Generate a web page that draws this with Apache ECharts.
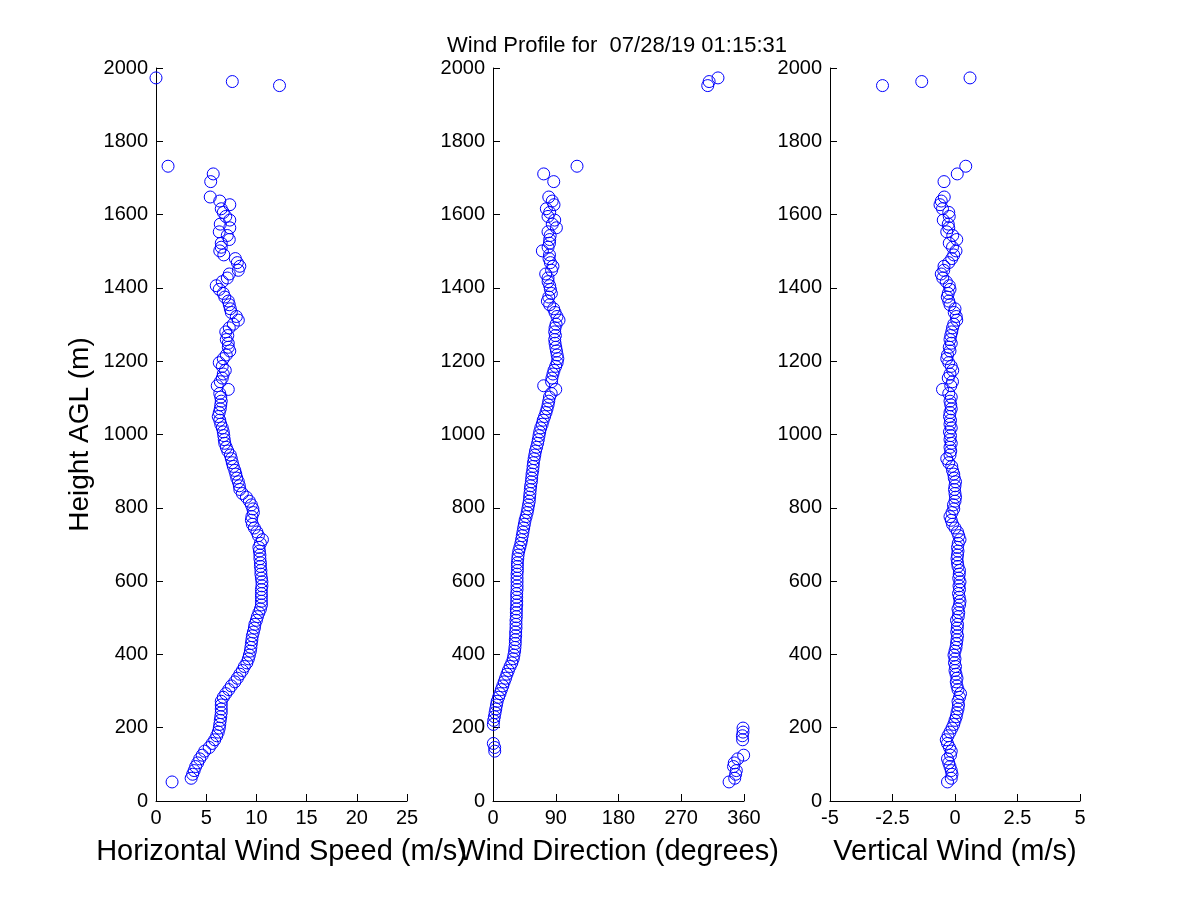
<!DOCTYPE html>
<html>
<head>
<meta charset="utf-8">
<script src="https://cdn.jsdelivr.net/npm/echarts@6/dist/echarts.min.js"></script>
<style>
html,body{margin:0;padding:0;background:#fff;}
#chart{width:1200px;height:900px;}
</style>
</head>
<body>
<div id="chart"></div>
<script>
// Heights (m AGL) of each range gate
var heights = [
  52, 62, 73, 83, 94, 104, 115, 125, 136, 146,
  157, 167, 178, 188, 199, 209, 220, 230, 241, 251,
  262, 272, 283, 293, 304, 314, 325, 335, 346, 356,
  367, 377, 388, 398, 409, 419, 430, 440, 451, 461,
  472, 482, 493, 503, 514, 524, 535, 545, 556, 566,
  577, 587, 598, 608, 619, 629, 640, 650, 661, 671,
  682, 692, 703, 713, 724, 734, 745, 755, 766, 776,
  787, 797, 808, 818, 829, 839, 850, 860, 871, 881,
  892, 902, 913, 923, 934, 944, 955, 965, 976, 986,
  997, 1007, 1018, 1028, 1039, 1049, 1060, 1070, 1081, 1091,
  1102, 1112, 1123, 1133, 1144, 1154, 1165, 1175, 1186, 1196,
  1207, 1217, 1228, 1238, 1249, 1259, 1270, 1280, 1291, 1301,
  1312, 1322, 1333, 1343, 1354, 1364, 1375, 1385, 1396, 1406,
  1417, 1427, 1438, 1448, 1459, 1469, 1480, 1490, 1501, 1511,
  1522, 1532, 1543, 1553, 1564, 1574, 1585, 1595, 1606, 1616,
  1627, 1637, 1648, 1690, 1711, 1732, 1952, 1963, 1973
];

// Horizontal wind speed (m/s)
var windSpeed = [
  1.6, 3.5, 3.65, 3.8, 3.95, 4.15, 4.35, 4.6, 4.85, 5.3,
  5.6, 5.85, 6.05, 6.2, 6.3, 6.35, 6.4, 6.45, 6.5, 6.5,
  6.5, 6.5, 6.7, 6.95, 7.25, 7.5, 7.85, 8.1, 8.35, 8.6,
  8.8, 9.05, 9.2, 9.3, 9.4, 9.45, 9.5, 9.55, 9.6, 9.7,
  9.8, 9.85, 10.0, 10.1, 10.25, 10.4, 10.5, 10.5, 10.5, 10.5,
  10.5, 10.55, 10.55, 10.5, 10.45, 10.45, 10.4, 10.4, 10.35, 10.35,
  10.3, 10.25, 10.4, 10.6, 10.2, 10.05, 9.8, 9.6, 9.5, 9.55,
  9.7, 9.65, 9.5, 9.3, 9.0, 8.6, 8.35, 8.3, 8.2, 8.05,
  7.95, 7.85, 7.7, 7.6, 7.5, 7.4, 7.15, 7.0, 6.85, 6.8,
  6.75, 6.7, 6.6, 6.45, 6.35, 6.2, 6.3, 6.4, 6.45, 6.5,
  6.45, 6.35, 7.2, 6.1, 6.4, 6.6, 6.7, 6.9, 6.6, 6.3,
  6.7, 7.0, 7.35, 7.2, 7.2, 7.0, 7.15, 6.95, 7.3, 7.7,
  8.2, 8.0, 7.5, 7.4, 7.3, 7.2, 6.85, 6.7, 6.3, 6.0,
  6.6, 7.1, 7.3, 8.2, 8.35, 8.1, 7.9, 6.75, 6.35, 6.5,
  6.5, 7.3, 7.1, 6.3, 7.35, 6.4, 7.35, 6.95, 6.7, 6.5,
  7.35, 6.35, 5.4, 5.45, 5.7, 1.2, 12.3, 7.6, 0.0
];

// Wind direction (degrees)
var windDirection = [
  338.6, 346.7, 348, 349, 345, 346, 351, 359.5, 2.5, 2.4,
  0.5, 358, 357.7, 358.6, 358.6, 0.5, 1, 2, 3, 4,
  5, 6, 8, 10, 12, 14, 16, 18, 20, 22,
  24.5, 27, 29, 30, 31, 31.5, 32, 32, 32.5, 32.5,
  33, 33, 33, 33.5, 33.5, 33.5, 34, 34, 34, 34,
  34.5, 34.5, 34.5, 34.5, 34.5, 35, 35, 35, 35.5, 36,
  37, 38.5, 40, 41, 42, 43, 44, 45, 46, 47.5,
  49, 50, 51, 52, 52.5, 53, 53.5, 54, 55, 55.5,
  56, 57, 57.5, 58, 59, 60, 61, 62.5, 64, 65,
  66, 67, 68.5, 70.5, 72, 74, 76, 77.5, 79, 80,
  81, 83.5, 90, 72.7, 84, 84.5, 86, 87.5, 89.9, 92,
  93, 92, 91, 90, 89, 88.5, 89.5, 88.5, 89, 90.5,
  94.7, 91.8, 89, 87, 81.3, 78, 80, 83.7, 82.3, 81.3,
  79, 78.9, 75.6, 84, 86, 82.3, 80.4, 81, 70.8, 79,
  81, 81.3, 82, 78.9, 90.9, 85, 88.5, 78.9, 81.3, 76.5,
  87.5, 85, 80, 87.1, 72.7, 120.5, 308, 310, 322.7
];

// Vertical wind (m/s)
var verticalWind = [
  -0.3, -0.15, -0.12, -0.15, -0.2, -0.25, -0.3, -0.18, -0.15, -0.22,
  -0.3, -0.35, -0.28, -0.2, -0.12, -0.05, 0.0, 0.05, 0.08, 0.12,
  0.14, 0.12, 0.18, 0.22, 0.12, 0.08, 0.05, 0.08, 0.04, 0.0,
  0.02, -0.02, 0.0, -0.04, 0.0, 0.04, 0.06, 0.08, 0.1, 0.07,
  0.09, 0.1, 0.06, 0.13, 0.15, 0.12, 0.18, 0.2, 0.17, 0.14,
  0.18, 0.16, 0.2, 0.15, 0.17, 0.18, 0.12, 0.1, 0.08, 0.1,
  0.12, 0.1, 0.13, 0.2, 0.15, 0.1, 0.0, -0.1, -0.15, -0.2,
  -0.12, -0.05, -0.06, 0.0, 0.02, 0.0, -0.02, 0.0, 0.02, -0.03,
  -0.05, -0.1, -0.13, -0.25, -0.33, -0.2, -0.17, -0.2, -0.15, -0.2,
  -0.18, -0.22, -0.15, -0.2, -0.18, -0.22, -0.2, -0.15, -0.17, -0.2,
  -0.15, -0.25, -0.5, -0.17, -0.1, -0.27, -0.2, -0.09, -0.15, -0.25,
  -0.33, -0.3, -0.2, -0.23, -0.15, -0.2, -0.17, -0.13, -0.1, -0.05,
  0.07, 0.05, -0.03, 0.0, -0.2, -0.25, -0.31, -0.27, -0.2, -0.23,
  -0.35, -0.49, -0.55, -0.45, -0.44, -0.25, -0.13, -0.05, 0.04, -0.1,
  -0.23, 0.07, -0.09, -0.33, -0.25, -0.27, -0.47, -0.23, -0.25, -0.5,
  -0.6, -0.55, -0.43, -0.44, 0.09, 0.43, -2.9, -1.33, 0.6
];

// Axis ticks / titles
var titleText = 'Wind Profile for  07/28/19 01:15:31';
var yAxisTitle = 'Height AGL (m)';
var xAxisTitles = ['Horizontal Wind Speed (m/s)', 'Wind Direction (degrees)', 'Vertical Wind (m/s)'];
var xRanges = [[0, 25, 5], [0, 360, 90], [-5, 5, 2.5]];
var yRange = [0, 2000, 200];

function pairs(xs) {
  var out = [];
  for (var i = 0; i < xs.length; i++) out.push([xs[i], heights[i]]);
  return out;
}

var FONT = 'Liberation Sans, Arial, Helvetica, sans-serif';
var gridLefts = [156, 493, 830];
var gridWidths = [251, 251, 250];

var grids = [], xAxes = [], yAxes = [], series = [];
var seriesData = [windSpeed, windDirection, verticalWind];
for (var k = 0; k < 3; k++) {
  grids.push({left: gridLefts[k], width: gridWidths[k], top: 68, height: 733, containLabel: false});
  xAxes.push({
    type: 'value', gridIndex: k,
    min: xRanges[k][0], max: xRanges[k][1], interval: xRanges[k][2],
    name: xAxisTitles[k], nameLocation: 'middle', nameGap: 36,
    nameTextStyle: {fontFamily: FONT, fontSize: 29, color: '#000'},
    axisLine: {show: true, onZero: false, lineStyle: {color: '#000', width: 1}},
    axisTick: {show: true, inside: true, length: 7, lineStyle: {color: '#000'}},
    axisLabel: {fontFamily: FONT, fontSize: 20, color: '#000', margin: 7, showMinLabel: true, showMaxLabel: true,
      formatter: function (v) { return String(v); }},
    splitLine: {show: false}
  });
  yAxes.push({
    type: 'value', gridIndex: k,
    min: yRange[0], max: yRange[1], interval: yRange[2],
    name: k === 0 ? yAxisTitle : '', nameLocation: 'middle', nameGap: 62, nameRotate: 90,
    nameTextStyle: {fontFamily: FONT, fontSize: 28, color: '#000'},
    axisLine: {show: true, onZero: false, lineStyle: {color: '#000', width: 1}},
    axisTick: {show: true, inside: true, length: 7, lineStyle: {color: '#000'}},
    axisLabel: {fontFamily: FONT, fontSize: 20, color: '#000', margin: 8,
      formatter: function (v) { return String(v); }},
    splitLine: {show: false}
  });
  series.push({
    type: 'scatter', xAxisIndex: k, yAxisIndex: k,
    data: pairs(seriesData[k]),
    symbol: 'circle', symbolSize: 12,
    itemStyle: {color: 'rgba(0,0,0,0)', borderColor: '#0000ff', borderWidth: 1, opacity: 1},
    emphasis: {disabled: true},
    silent: true
  });
}

var chart = echarts.init(document.getElementById('chart'), null, {renderer: 'canvas'});
chart.setOption({
  backgroundColor: '#ffffff',
  animation: false,
  title: {
    text: titleText, left: 447, top: 35, padding: 0,
    textStyle: {fontFamily: FONT, fontSize: 22, fontWeight: 'normal', color: '#000'}
  },
  grid: grids,
  xAxis: xAxes,
  yAxis: yAxes,
  series: series
});
</script>
</body>
</html>
